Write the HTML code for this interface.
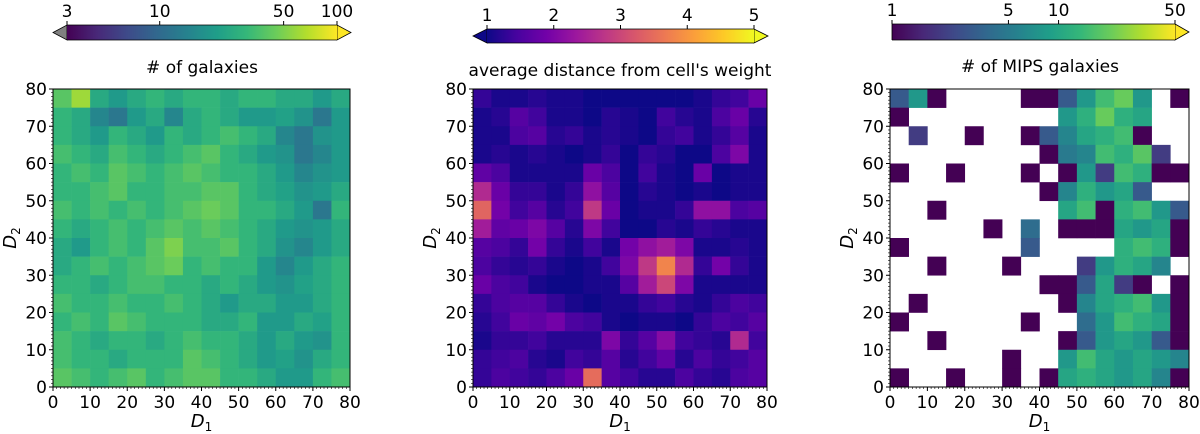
<!DOCTYPE html>
<html><head><meta charset="utf-8"><style>
body{margin:0;background:#fff;}
svg{display:block;font-family:"DejaVu Sans","Liberation Sans",sans-serif;}
</style></head><body>
<svg id="c" width="1200" height="434" viewBox="0 0 1200 434" xmlns="http://www.w3.org/2000/svg"></svg>
<script>
// Panel 1: # of galaxies (16x16 coarse grid, rows from top D2=80 down)
const galaxies = [
[40,60,25,20,25,30,25,30,30,25,30,30,25,25,20,25],
[30,25,15,12,20,25,15,25,30,25,20,20,22,18,12,20],
[30,25,20,30,25,20,30,25,30,35,30,25,15,12,18,20],
[35,30,25,35,30,25,30,35,40,30,25,20,18,12,15,20],
[30,35,30,40,35,30,35,40,35,30,30,25,20,15,18,20],
[30,30,35,40,30,30,35,35,40,40,30,25,22,18,20,25],
[35,30,35,30,35,30,35,40,45,40,30,30,25,20,12,30],
[30,25,30,35,30,35,40,35,40,35,30,25,20,18,20,25],
[25,20,30,35,30,40,50,35,35,40,30,25,18,15,20,25],
[25,30,35,30,35,40,45,30,35,30,30,20,15,20,25,30],
[30,30,25,30,35,35,30,30,25,30,25,20,18,22,25,30],
[35,30,30,35,30,30,35,30,25,20,25,25,20,20,25,30],
[30,35,30,40,35,30,30,30,25,25,30,20,20,25,22,30],
[35,30,25,30,30,25,30,35,30,30,25,20,25,20,18,30],
[35,30,30,25,30,30,30,40,35,30,25,20,22,18,25,30],
[40,35,30,35,40,30,35,40,40,30,30,25,20,20,30,35]];
// Panel 2: average distance from cell's weight
const distances = [
[1.3,1.1,1.1,1.2,1.1,1.1,1.0,1.0,1.0,1.0,1.0,1.0,1.1,1.3,1.4,1.8],
[1.1,1.2,1.6,1.4,1.1,1.1,1.0,1.2,1.1,1.0,1.4,1.2,1.1,1.5,1.8,1.2],
[1.1,1.1,1.5,1.6,1.2,1.3,1.1,1.2,1.1,1.0,1.3,1.4,1.1,1.3,1.6,1.1],
[1.1,1.2,1.1,1.2,1.1,1.0,1.1,1.3,1.0,1.3,1.2,1.0,1.0,1.5,2.0,1.1],
[1.7,1.5,1.1,1.1,1.1,1.1,1.8,1.5,1.0,1.4,1.1,1.0,1.8,1.0,1.1,1.1],
[2.6,1.8,1.3,1.3,1.1,1.3,2.2,1.6,1.0,1.2,1.1,1.0,1.1,1.0,1.1,1.1],
[3.4,1.9,1.4,1.6,1.2,1.4,2.8,1.8,1.0,1.1,1.1,1.3,2.2,2.2,1.5,1.6],
[2.4,1.7,1.8,2.0,1.6,1.2,2.0,1.4,1.0,1.0,1.2,1.1,1.3,1.2,1.1,1.1],
[1.6,1.5,1.3,1.9,1.3,1.1,1.4,1.1,1.9,2.2,2.4,2.0,1.1,1.1,1.2,1.1],
[1.5,1.3,1.2,1.3,1.1,1.0,1.1,1.4,2.0,2.8,3.8,2.6,1.3,1.9,1.3,1.1],
[1.8,1.5,1.4,1.1,1.0,1.0,1.1,1.1,1.6,2.4,3.0,2.0,1.1,1.1,1.1,1.1],
[1.3,1.5,1.6,1.6,1.3,1.1,1.0,1.1,1.1,1.3,1.4,1.2,1.1,1.3,1.5,1.4],
[1.2,1.4,1.8,1.7,1.9,1.5,1.4,1.1,1.0,1.1,1.1,1.0,1.3,1.5,1.4,1.6],
[1.1,1.3,1.3,1.4,1.2,1.2,1.2,2.0,1.3,1.6,2.1,1.4,1.3,1.2,2.6,1.4],
[1.3,1.4,1.5,1.2,1.1,1.4,1.3,1.6,1.2,1.4,1.7,1.2,1.5,1.3,1.4,1.6],
[1.3,1.5,1.4,1.3,1.5,1.8,3.5,1.6,1.4,1.2,1.2,1.5,1.3,1.2,1.5,1.6]];
// Panel 3: # of MIPS galaxies (0 = empty/white)
const mips = [
[3,8,1,0,0,0,0,1,1,3,8,15,20,8,0,1],
[1,0,0,0,0,0,0,0,0,8,12,20,12,10,0,0],
[0,2,0,0,1,0,0,1,3,6,10,12,15,1,0,0],
[0,0,0,0,0,0,0,0,1,5,6,15,12,18,2,0],
[1,0,0,1,0,0,0,1,0,1,8,2,15,12,1,1],
[0,0,0,0,0,0,0,0,1,6,12,8,10,3,0,0],
[0,0,1,0,0,0,0,0,0,10,15,1,12,15,8,3],
[0,0,0,0,0,1,0,4,0,1,1,1,10,8,10,1],
[1,0,0,0,0,0,0,3,0,0,0,0,12,15,12,1],
[0,0,1,0,0,0,1,0,0,0,2,8,12,10,6,0],
[0,0,0,0,0,0,0,0,1,1,3,10,2,1,0,1],
[0,1,0,0,0,0,0,0,0,1,6,10,12,15,8,1],
[1,0,0,0,0,0,0,1,0,0,4,8,15,12,10,1],
[0,0,1,0,0,0,0,0,0,1,3,8,10,8,3,1],
[0,0,0,0,0,0,1,0,0,8,15,10,8,10,8,6],
[1,0,0,1,0,0,1,0,1,10,12,10,8,10,6,1]];
const axisTicks = [0,10,20,30,40,50,60,70,80];
const cb1Ticks = [3,10,50,100];
const cb2Ticks = [1,2,3,4,5];
const cb3Ticks = [1,5,10,50];

const NS='http://www.w3.org/2000/svg';
const svg=document.getElementById('c');
function mk(tag,attrs,parent){const e=document.createElementNS(NS,tag);for(const k in attrs)e.setAttribute(k,attrs[k]);(parent||svg).appendChild(e);return e;}
const viridis=[[68,1,84],[72,40,120],[62,74,137],[49,104,142],[38,130,142],[31,158,137],[53,183,121],[109,205,89],[180,222,44],[253,231,37]];
const plasma=[[13,8,135],[71,3,159],[114,1,168],[156,23,158],[189,55,134],[216,87,107],[237,121,83],[251,159,58],[253,202,38],[240,249,33]];
function cmap(stops,t){t=Math.max(0,Math.min(1,t));const f=t*(stops.length-1);const i=Math.min(stops.length-2,Math.floor(f));const u=f-i;const a=stops[i],b=stops[i+1];return 'rgb('+a.map((v,k)=>Math.round(v+(b[k]-v)*u)).join(',')+')';}

const panels=[
 {x0:53,x1:350,data:galaxies,col:v=>cmap(viridis,Math.log(v/3)/Math.log(100/3)),name:'galaxies'},
 {x0:473,x1:767,data:distances,col:v=>cmap(plasma,(v-1)/4),name:'distance'},
 {x0:890,x1:1189,data:mips,col:v=>v<=0?null:cmap(viridis,Math.log(v)/Math.log(50)),name:'mips'}];
const Y0=89,Y1=387;
panels.forEach(p=>{
 const sx=v=>p.x0+(p.x1-p.x0)*v/80, sy=v=>Y1-(Y1-Y0)*v/80;
 const g=mk('g',{});
 
 
 const n=p.data.length;
 p.data.forEach((row,r)=>row.forEach((v,c)=>{
   const col=p.col(v); if(!col) return;
   const x=sx(c*80/n), y=sy(80-r*80/n);
   const rc=mk('rect',{x:x,y:y,width:sx((c+1)*80/n)-x+0.3,height:sy(80-(r+1)*80/n)-y+0.3,fill:col},g);
   
   
 }));
 mk('rect',{x:p.x0,y:Y0,width:p.x1-p.x0,height:Y1-Y0,fill:'none',stroke:'#000','stroke-width':1});
 for(let i=0;i<=80;i++){
   mk('line',{x1:sx(i),x2:sx(i),y1:Y1,y2:Y1+2,stroke:'#000','stroke-width':0.6});
   mk('line',{x1:p.x0,x2:p.x0-2,y1:sy(i),y2:sy(i),stroke:'#000','stroke-width':0.6});
 }
 axisTicks.forEach(t=>{
   mk('line',{x1:sx(t),x2:sx(t),y1:Y1,y2:Y1+4,stroke:'#000'});
   mk('line',{x1:p.x0,x2:p.x0-4,y1:sy(t),y2:sy(t),stroke:'#000'});
   const tx=mk('text',{x:sx(t),y:Y1+21,'font-size':17,'text-anchor':'middle'});tx.textContent=t;
   
   const ty=mk('text',{x:p.x0-6,y:sy(t)+6,'font-size':17,'text-anchor':'end'});ty.textContent=t;
   
 });
 const xl=mk('text',{x:(p.x0+p.x1)/2,y:427,'font-size':18,'text-anchor':'middle','font-style':'italic'});
 xl.innerHTML='D<tspan font-style="normal" font-size="12" dy="4">1</tspan>';
 
 const yx=p.x0-37, yy=(Y0+Y1)/2;
 const yl=mk('text',{x:yx,y:yy,'font-size':18,'text-anchor':'middle','font-style':'italic',transform:`rotate(-90 ${yx} ${yy})`});
 yl.innerHTML='D<tspan font-style="normal" font-size="12" dy="4">2</tspan>';
 
});

// colorbars
function colorbar(id,stops,x0,x1,y0,y1,lo,hi,ticks,pos,title,titleX,titleY){
 const defs=mk('defs',{});const gr=mk('linearGradient',{id:id},defs);
 stops.forEach((s,i)=>mk('stop',{offset:i/(stops.length-1),'stop-color':'rgb('+s.join(',')+')'},gr));
 const g=mk('g',{});
 
 const h=y1-y0, m=(y0+y1)/2;
 if(lo) mk('polygon',{points:`${x0},${y0} ${x0},${y1} ${x0-14},${m}`,fill:lo,stroke:'#000','stroke-width':0.8},g);
 if(hi) mk('polygon',{points:`${x1},${y0} ${x1},${y1} ${x1+14},${m}`,fill:hi,stroke:'#000','stroke-width':0.8},g);
 mk('rect',{x:x0,y:y0,width:x1-x0,height:h,fill:`url(#${id})`,stroke:'none'},g);
 mk('line',{x1:x0,x2:x1,y1:y0,y2:y0,stroke:'#000','stroke-width':0.8},g);
 mk('line',{x1:x0,x2:x1,y1:y1,y2:y1,stroke:'#000','stroke-width':0.8},g);
 if(!lo) mk('line',{x1:x0,x2:x0,y1:y0,y2:y1,stroke:'#000','stroke-width':0.8},g);
 ticks.forEach(t=>{const x=x0+(x1-x0)*pos(t);
   mk('line',{x1:x,x2:x,y1:y0,y2:y0-4,stroke:'#000'},g);
   const tx=mk('text',{x:x,y:y0-8,'font-size':17,'text-anchor':'middle'},g);tx.textContent=t;
   });
 const tt=mk('text',{x:titleX,y:titleY,'font-size':17,'text-anchor':'middle'},g);tt.textContent=title;
 
}
colorbar('colorbar-galaxies',viridis,67,337,25,40,'#808080','rgb(253,231,37)',cb1Ticks,t=>Math.log(t/3)/Math.log(100/3),'# of galaxies',202,73);
colorbar('colorbar-distance',plasma,487,754,29,43,'rgb(13,8,135)','rgb(240,249,33)',cb2Ticks,t=>(t-1)/4,"average distance from cell's weight",620,76);
colorbar('colorbar-mips',viridis,892,1175,24,40,null,'rgb(253,231,37)',cb3Ticks,t=>Math.log(t)/Math.log(50),'# of MIPS galaxies',1040,72);
</script>
</body></html>
